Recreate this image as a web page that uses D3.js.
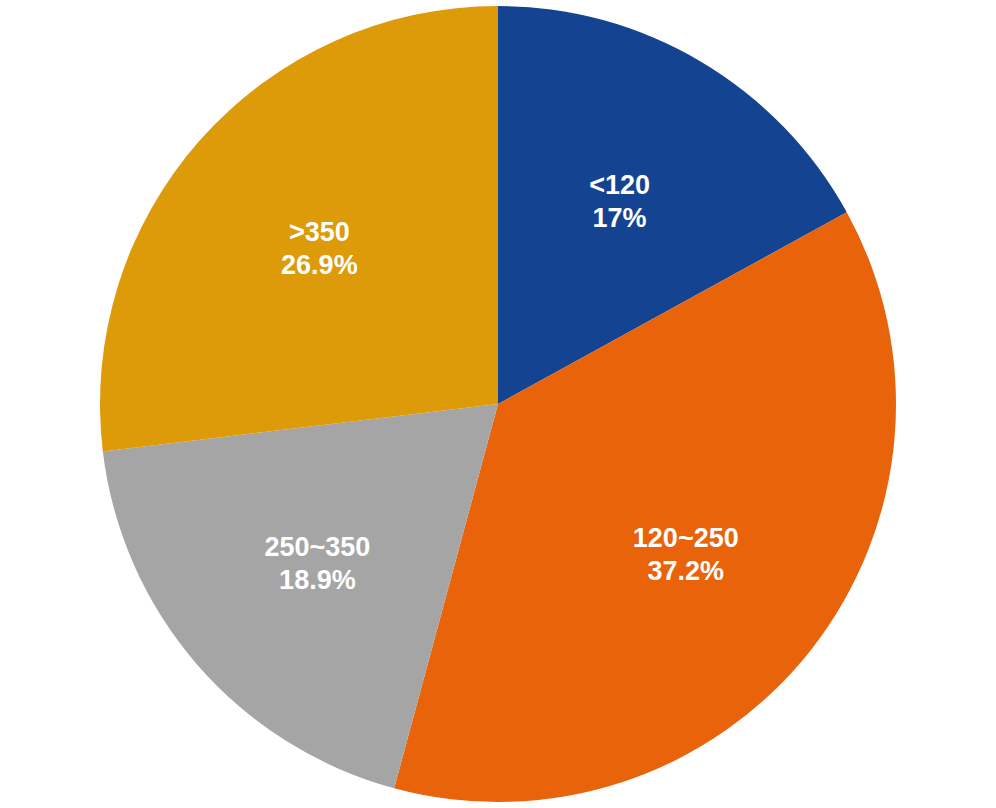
<!DOCTYPE html>
<html><head><meta charset="utf-8">
<script src="https://cdn.jsdelivr.net/npm/d3@7"></script>
<style>body{margin:0;background:#fff}</style>
</head><body>
<svg id="chart" width="996" height="808"></svg>
<script>
const categories = ['<120', '120~250', '250~350', '>350']
const values = [17, 37.2, 18.9, 26.9]
const labels = ['17%', '37.2%', '18.9%', '26.9%']
const colors = ['#134391', '#E8630A', '#A5A5A5', '#DD9A09']

const cx = 498, cy = 404, r = 398
const svg = d3.select('#chart')
const g = svg.append('g').attr('transform', `translate(${cx}, ${cy})`)

const pie = d3.pie().sort(null).value((d) => d)
const arcs = pie(values)
const arc = d3.arc().innerRadius(0).outerRadius(r)
const labelArc = d3.arc().innerRadius(r * 0.6).outerRadius(r * 0.6)

g.selectAll('path').data(arcs)
  .enter().append('path')
    .attr('d', arc)
    .attr('fill', (d, i) => colors[i])

const text = g.selectAll('text.lbl').data(arcs)
  .enter().append('text')
    .attr('class', 'lbl')
    .attr('transform', (d) => `translate(${labelArc.centroid(d)})`)
    .attr('text-anchor', 'middle')
    .attr('fill', '#fff')
    .attr('font-family', 'Liberation Sans, Arial, sans-serif')
    .attr('font-weight', 'bold')
    .attr('font-size', 27)
text.append('tspan').attr('x', 0).attr('dy', '-0.15em').text((d, i) => categories[i])
text.append('tspan').attr('x', 0).attr('dy', '1.2em').text((d, i) => labels[i])
</script>
</body></html>
